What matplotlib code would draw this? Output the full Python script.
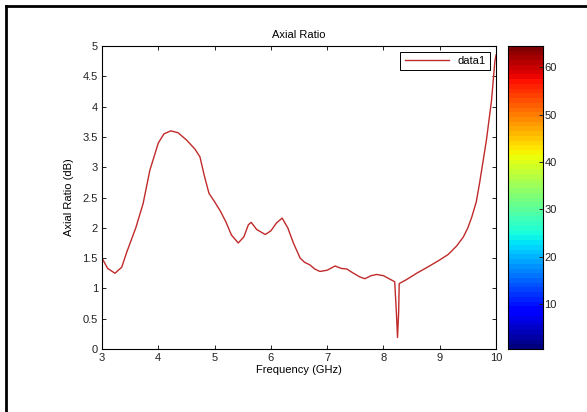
# axial_ratio.py

import matplotlib.pyplot as plt
import numpy as np
from matplotlib.lines import Line2D

plt.rcParams['font.family'] = ['Liberation Sans', 'DejaVu Sans']

# frequency (GHz) and axial ratio (dB)
freq = [3.0, 3.1, 3.23, 3.35, 3.44, 3.6, 3.73, 3.85, 4.0, 4.1, 4.22, 4.35,
        4.5, 4.65, 4.74, 4.82, 4.9, 5.0, 5.1, 5.2, 5.3, 5.42, 5.52, 5.6,
        5.65, 5.75, 5.9, 6.0, 6.1, 6.2, 6.3, 6.4, 6.52, 6.6, 6.69, 6.78,
        6.87, 7.0, 7.14, 7.25, 7.35, 7.45, 7.58, 7.67, 7.78, 7.88, 8.0,
        8.12, 8.2, 8.23, 8.25, 8.27, 8.28, 8.4, 8.59, 8.8, 9.0, 9.15, 9.3,
        9.42, 9.5, 9.57, 9.65, 9.71, 9.77, 9.83, 9.92, 9.98, 10.0]
ar_db = [1.5, 1.33, 1.25, 1.35, 1.6, 2.0, 2.4, 2.95, 3.4, 3.55, 3.6, 3.57,
         3.45, 3.3, 3.17, 2.85, 2.57, 2.43, 2.28, 2.1, 1.88, 1.75, 1.85, 2.05,
         2.09, 1.97, 1.89, 1.95, 2.08, 2.16, 2.0, 1.75, 1.5, 1.43, 1.39, 1.32,
         1.28, 1.3, 1.37, 1.33, 1.32, 1.26, 1.19, 1.16, 1.21, 1.23, 1.21,
         1.15, 1.11, 0.6, 0.19, 0.6, 1.08, 1.14, 1.25, 1.36, 1.47, 1.56, 1.7,
         1.85, 2.0, 2.18, 2.43, 2.75, 3.1, 3.45, 4.1, 4.75, 4.85]

x_ticks = [3, 4, 5, 6, 7, 8, 9, 10]
y_ticks = [0, 0.5, 1, 1.5, 2, 2.5, 3, 3.5, 4, 4.5, 5]
cbar_ticks = [10, 20, 30, 40, 50, 60]
cbar_range = (0.5, 64.5)

fig = plt.figure(figsize=(5.87, 4.12), dpi=100)
ax = fig.add_axes([0.1738, 0.1529, 0.6712, 0.7354])
cax = fig.add_axes([0.8654, 0.1529, 0.0596, 0.7354])

ax.plot(freq, ar_db, color='#c02a2a', lw=1.0, label='data1')
ax.set_xlim(3, 10)
ax.set_ylim(0, 5)
ax.set_xticks(x_ticks)
ax.set_xticklabels([str(t) for t in x_ticks])
ax.set_yticks(y_ticks)
ax.set_yticklabels(['0', '0.5', '1', '1.5', '2', '2.5', '3', '3.5', '4', '4.5', '5'])
ax.tick_params(direction='in', length=3, width=0.7, labelsize=8,
               top=True, right=True, colors='#222222', pad=3)
for s in ax.spines.values():
    s.set_linewidth(0.8)
ax.set_title("Axial Ratio", fontsize=8, pad=6)
ax.set_xlabel("Frequency (GHz)", fontsize=8, labelpad=1)
ax.set_ylabel("Axial Ratio (dB)", fontsize=8, labelpad=6)
leg = ax.legend(loc='upper right', fontsize=8, fancybox=False,
                framealpha=1, edgecolor='black', handlelength=4.0,
                borderaxespad=0.5, borderpad=0.4)
leg.get_frame().set_linewidth(0.7)

# jet colour bar
grad = np.linspace(cbar_range[0], cbar_range[1], 64).reshape(-1, 1)
cax.imshow(grad, aspect='auto', cmap=plt.get_cmap('jet', 64), origin='lower',
           extent=[0, 1, cbar_range[0], cbar_range[1]])
cax.set_ylim(*cbar_range)
cax.set_xticks([])
cax.yaxis.tick_right()
cax.set_yticks(cbar_ticks)
cax.tick_params(direction='in', length=3, width=0.7, labelsize=8, pad=1,
                colors='#222222')

# page frame on left and top
fig.add_artist(Line2D([0.0102, 0.0102], [0, 0.9854], color='black', lw=2,
                      transform=fig.transFigure))
fig.add_artist(Line2D([0.0102, 1.0], [0.9854, 0.9854], color='black', lw=2,
                      transform=fig.transFigure))

plt.savefig("out.png", dpi=100)
